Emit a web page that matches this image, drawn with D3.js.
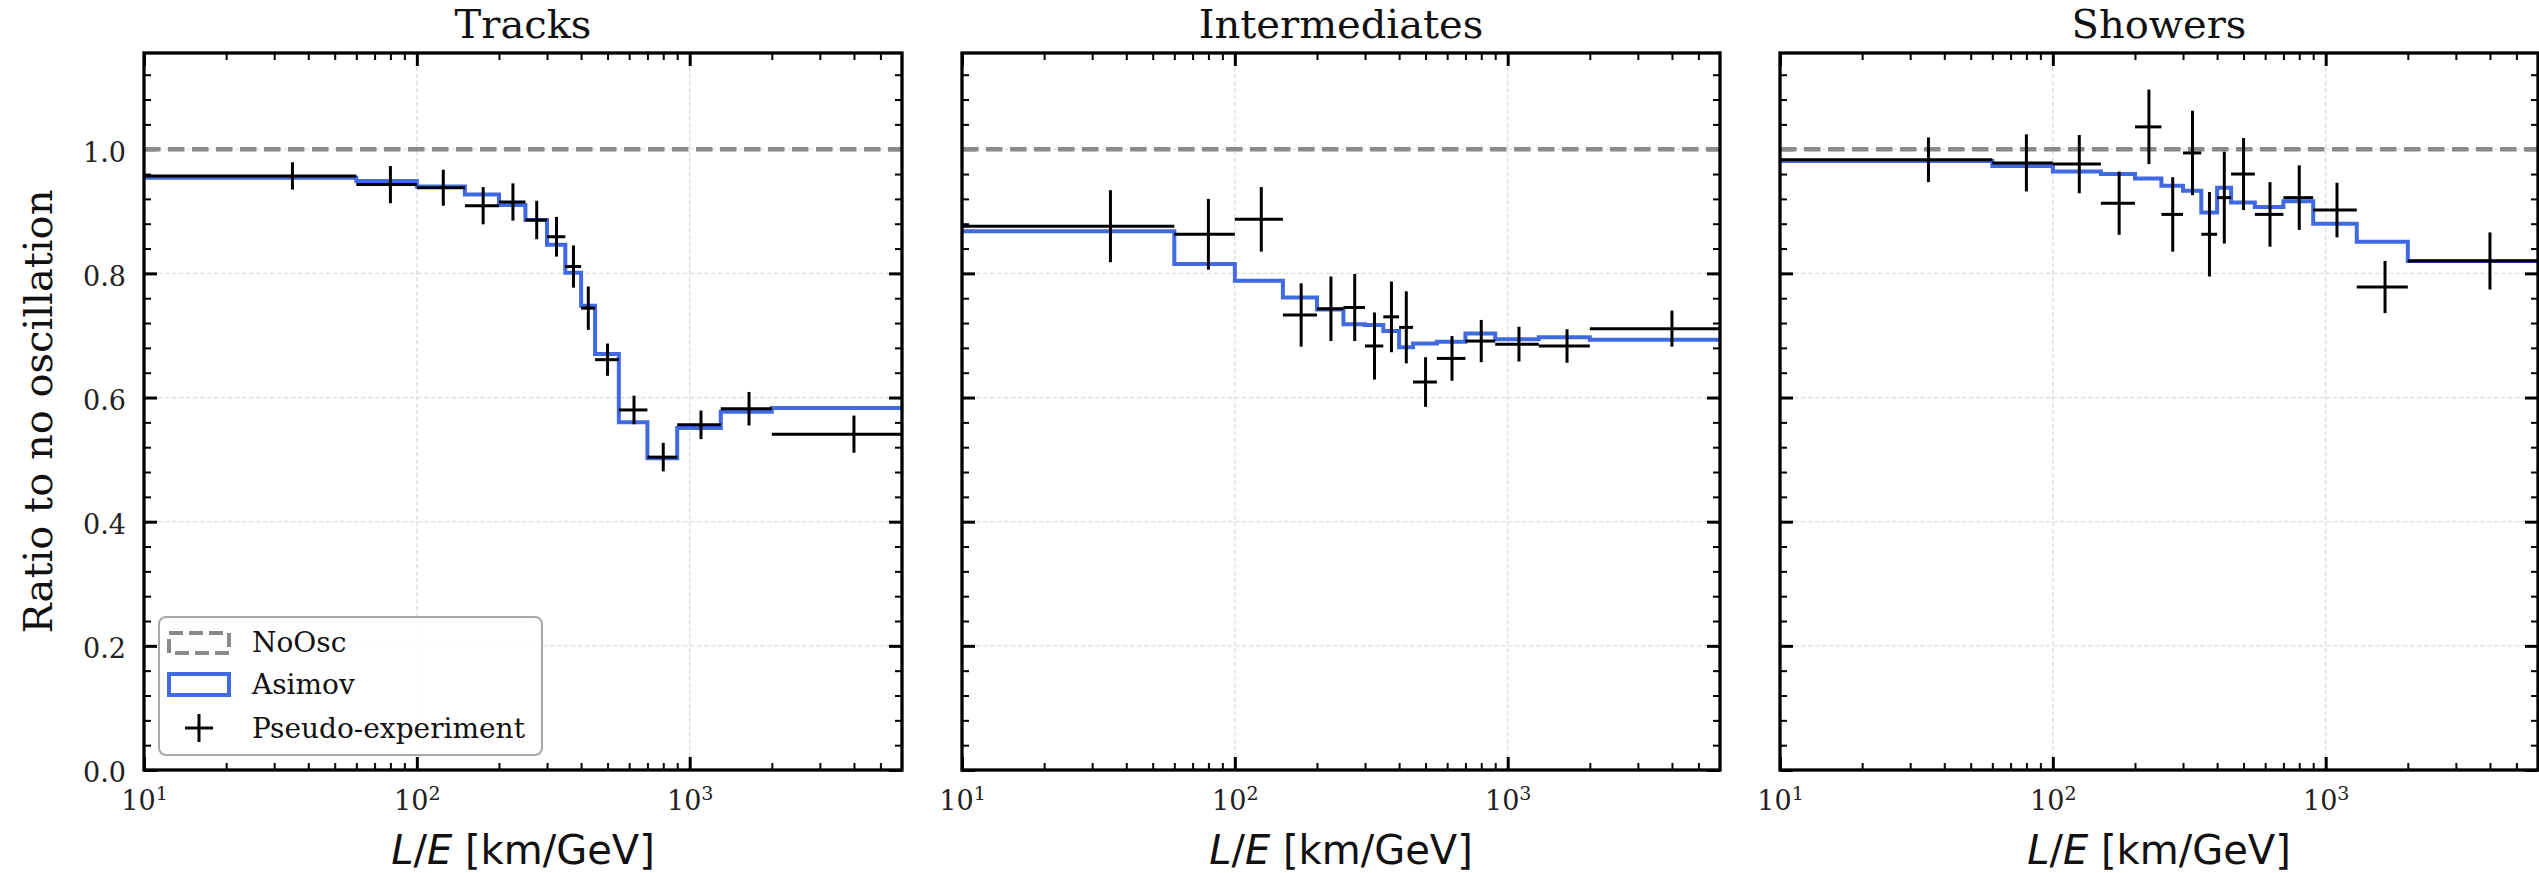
<!DOCTYPE html>
<html><head><meta charset="utf-8">
<script src="https://cdn.jsdelivr.net/npm/d3@7"></script>
<style>
html,body{margin:0;padding:0;background:#fff;}
svg{display:block;}
</style></head>
<body>
<svg id="chart" width="2539" height="873"></svg>
<script>
// ---------------- data ----------------
const binEdges = [10, 60, 100, 150, 200, 250, 300, 350, 400, 450, 550, 700, 900, 1300, 2000, 6000];
const panelTitles = ["Tracks", "Intermediates", "Showers"];

const noOsc = [1, 1, 1, 1, 1, 1, 1, 1, 1, 1, 1, 1, 1, 1, 1];

const tracksAsimov = [0.954, 0.949, 0.940, 0.927, 0.910, 0.886, 0.846, 0.801, 0.748, 0.670, 0.560, 0.502, 0.551, 0.577, 0.583];
const tracksPseudo = [0.957, 0.943, 0.938, 0.909, 0.915, 0.886, 0.859, 0.811, 0.744, 0.661, 0.580, 0.504, 0.556, 0.582, 0.541];
const tracksErr    = [0.022, 0.030, 0.029, 0.030, 0.030, 0.031, 0.032, 0.034, 0.035, 0.026, 0.023, 0.023, 0.023, 0.027, 0.030];

const interAsimov = [0.868, 0.815, 0.788, 0.761, 0.742, 0.718, 0.717, 0.707, 0.681, 0.687, 0.690, 0.703, 0.694, 0.697, 0.693];
const interPseudo = [0.876, 0.863, 0.887, 0.733, 0.743, 0.745, 0.683, 0.730, 0.713, 0.625, 0.663, 0.691, 0.686, 0.683, 0.711];
const interErr    = [0.058, 0.057, 0.052, 0.051, 0.052, 0.054, 0.054, 0.057, 0.058, 0.040, 0.036, 0.034, 0.028, 0.027, 0.029];

const showerAsimov = [0.981, 0.973, 0.964, 0.960, 0.953, 0.941, 0.933, 0.898, 0.938, 0.914, 0.907, 0.916, 0.880, 0.851, 0.820];
const showerPseudo = [0.983, 0.978, 0.976, 0.913, 1.036, 0.895, 0.994, 0.863, 0.922, 0.960, 0.895, 0.922, 0.902, 0.778, 0.820];
const showerErr    = [0.036, 0.046, 0.047, 0.051, 0.060, 0.060, 0.068, 0.068, 0.074, 0.058, 0.052, 0.052, 0.044, 0.042, 0.046];

const xDomain = [10, 6000];
const yDomain = [0, 1.155];
const xMajorTicks = [10, 100, 1000];
const xMajorExponents = ["1", "2", "3"];
const xMinorTicks = [20, 30, 40, 50, 60, 70, 80, 90, 200, 300, 400, 500, 600, 700, 800, 900, 2000, 3000, 4000, 5000];
const yMajorTicks = [0, 0.2, 0.4, 0.6, 0.8, 1.0];
const yMajorLabels = ["0.0", "0.2", "0.4", "0.6", "0.8", "1.0"];
const yMinorTicks = [0.04, 0.08, 0.12, 0.16, 0.24, 0.28, 0.32, 0.36, 0.44, 0.48, 0.52, 0.56, 0.64, 0.68, 0.72, 0.76, 0.84, 0.88, 0.92, 0.96, 1.04, 1.08, 1.12];
const xGridTicks = [100, 1000];
const yGridTicks = [0.2, 0.4, 0.6, 0.8, 1.0];
const legendLabels = ["NoOsc", "Asimov", "Pseudo-experiment"];

const panels = [
  { title: panelTitles[0], asimov: tracksAsimov, pseudo: tracksPseudo, err: tracksErr },
  { title: panelTitles[1], asimov: interAsimov, pseudo: interPseudo, err: interErr },
  { title: panelTitles[2], asimov: showerAsimov, pseudo: showerPseudo, err: showerErr }
];

// ---------------- layout / style ----------------
const serif = "'DejaVu Serif', serif";
const sans = "'DejaVu Sans', sans-serif";
const PANEL_W = 758, TOP = 53, BOTTOM = 770;
const lefts = [144, 962, 1780];
const BLUE = "#4169e1";
const GRAY = "#8a8a8a";

const svg = d3.select("#chart");
const y = d3.scaleLinear().domain(yDomain).range([BOTTOM, TOP]);

function styleAxis(sel, width) {
  sel.select(".domain").remove();
  sel.selectAll(".tick line").attr("stroke", "#000").attr("stroke-width", width);
}

panels.forEach((p, i) => {
  const L = lefts[i];
  const x = d3.scaleLog().domain(xDomain).range([L, L + PANEL_W]);
  const g = svg.append("g");

  const clipId = "clip" + i;
  svg.append("clipPath").attr("id", clipId)
    .append("rect").attr("x", L).attr("y", TOP).attr("width", PANEL_W).attr("height", BOTTOM - TOP);

  // grid
  const grid = g.append("g").attr("stroke", "#dcdcdc").attr("stroke-width", 1.3).attr("stroke-dasharray", "4.5,2.5");
  grid.selectAll(".gx").data(xGridTicks).join("line")
    .attr("x1", d => x(d)).attr("x2", d => x(d)).attr("y1", TOP).attr("y2", BOTTOM);
  grid.selectAll(".gy").data(yGridTicks).join("line")
    .attr("x1", L).attr("x2", L + PANEL_W).attr("y1", d => y(d)).attr("y2", d => y(d));

  // axes ticks (inward, all four sides)
  const axB = g.append("g").attr("transform", `translate(0,${BOTTOM})`)
    .call(d3.axisBottom(x).tickValues(xMajorTicks).tickSize(-13).tickFormat(() => ""));
  styleAxis(axB, 3);
  g.append("g").attr("transform", `translate(0,${BOTTOM})`)
    .call(d3.axisBottom(x).tickValues(xMinorTicks).tickSize(-7).tickFormat(() => ""))
    .call(s => styleAxis(s, 2));
  g.append("g").attr("transform", `translate(0,${TOP})`)
    .call(d3.axisTop(x).tickValues(xMajorTicks).tickSize(-13).tickFormat(() => ""))
    .call(s => styleAxis(s, 3));
  g.append("g").attr("transform", `translate(0,${TOP})`)
    .call(d3.axisTop(x).tickValues(xMinorTicks).tickSize(-7).tickFormat(() => ""))
    .call(s => styleAxis(s, 2));

  const axL = g.append("g").attr("transform", `translate(${L},0)`)
    .call(d3.axisLeft(y).tickValues(yMajorTicks).tickSize(-13).tickPadding(18)
      .tickFormat((d, k) => i === 0 ? yMajorLabels[k] : ""));
  styleAxis(axL, 3);
  axL.selectAll(".tick text").attr("font-family", serif).attr("font-size", 27)
    .attr("fill", "#222").attr("dy", "0.44em");
  g.append("g").attr("transform", `translate(${L},0)`)
    .call(d3.axisLeft(y).tickValues(yMinorTicks).tickSize(-7).tickFormat(() => ""))
    .call(s => styleAxis(s, 2));
  g.append("g").attr("transform", `translate(${L + PANEL_W},0)`)
    .call(d3.axisRight(y).tickValues(yMajorTicks).tickSize(-13).tickFormat(() => ""))
    .call(s => styleAxis(s, 3));
  g.append("g").attr("transform", `translate(${L + PANEL_W},0)`)
    .call(d3.axisRight(y).tickValues(yMinorTicks).tickSize(-7).tickFormat(() => ""))
    .call(s => styleAxis(s, 2));

  // x tick labels 10^n
  axB.selectAll(".tick text").each(function(d, k) {
    const t = d3.select(this);
    t.text(null).attr("y", 40).attr("dy", null).attr("font-family", serif)
      .attr("font-size", 27).attr("fill", "#222").attr("text-anchor", "middle");
    t.append("tspan").text("10");
    t.append("tspan").attr("font-size", 19).attr("dy", -10).text(xMajorExponents[k]);
  });

  const data = g.append("g").attr("clip-path", `url(#${clipId})`);

  // NoOsc dashed step
  const stepLine = d3.line().x(d => x(d[0])).y(d => y(d[1])).curve(d3.curveStepAfter);
  const stepPts = vals => binEdges.map((e, k) => [e, vals[Math.min(k, vals.length - 1)]]);
  data.append("path").attr("d", stepLine(stepPts(noOsc)))
    .attr("fill", "none").attr("stroke", GRAY).attr("stroke-width", 4.5).attr("stroke-dasharray", "16.5,7.5");

  // Asimov step
  data.append("path").attr("d", stepLine(stepPts(p.asimov)))
    .attr("fill", "none").attr("stroke", BLUE).attr("stroke-width", 4).attr("stroke-linejoin", "miter");

  // Pseudo-experiment error bars
  const pts = p.pseudo.map((v, k) => ({
    lo: binEdges[k], hi: binEdges[k + 1], mid: (binEdges[k] + binEdges[k + 1]) / 2, v, e: p.err[k]
  }));
  const eb = data.append("g").attr("stroke", "#000").attr("stroke-width", 3);
  eb.selectAll(".h").data(pts).join("line")
    .attr("x1", d => x(d.lo)).attr("x2", d => x(d.hi)).attr("y1", d => y(d.v)).attr("y2", d => y(d.v));
  eb.selectAll(".v").data(pts).join("line")
    .attr("x1", d => x(d.mid)).attr("x2", d => x(d.mid)).attr("y1", d => y(d.v - d.e)).attr("y2", d => y(d.v + d.e));

  // spines
  g.append("rect").attr("x", L).attr("y", TOP).attr("width", PANEL_W).attr("height", BOTTOM - TOP)
    .attr("fill", "none").attr("stroke", "#000").attr("stroke-width", 3.3);

  // title
  g.append("text").attr("x", L + PANEL_W / 2).attr("y", 38).attr("text-anchor", "middle")
    .attr("font-family", serif).attr("font-size", 40).attr("fill", "#111").text(p.title);

  // x label
  const xl = g.append("text").attr("x", L + PANEL_W / 2).attr("y", 864).attr("text-anchor", "middle")
    .attr("font-family", sans).attr("font-size", 40).attr("fill", "#111");
  xl.append("tspan").attr("font-style", "italic").text("L");
  xl.append("tspan").text("/");
  xl.append("tspan").attr("font-style", "italic").text("E");
  xl.append("tspan").text(" [km/GeV]");

  if (i === 0) {
    // legend
    const lg = g.append("g");
    lg.append("rect").attr("x", 159).attr("y", 617).attr("width", 383).attr("height", 138)
      .attr("rx", 7).attr("fill", "#fff").attr("fill-opacity", 0.9)
      .attr("stroke", "#a8a8a8").attr("stroke-width", 2);
    lg.append("rect").attr("x", 169).attr("y", 633).attr("width", 60).attr("height", 20)
      .attr("fill", "none").attr("stroke", GRAY).attr("stroke-width", 4).attr("stroke-dasharray", "14,6");
    lg.append("rect").attr("x", 169).attr("y", 674).attr("width", 60).attr("height", 21)
      .attr("fill", "none").attr("stroke", BLUE).attr("stroke-width", 4);
    lg.append("line").attr("x1", 185).attr("x2", 213).attr("y1", 728).attr("y2", 728)
      .attr("stroke", "#000").attr("stroke-width", 3);
    lg.append("line").attr("x1", 199).attr("x2", 199).attr("y1", 714).attr("y2", 742)
      .attr("stroke", "#000").attr("stroke-width", 3);
    const baselines = [652, 694, 738];
    lg.selectAll(".lt").data(legendLabels).join("text")
      .attr("x", 252).attr("y", (d, k) => baselines[k])
      .attr("font-family", serif).attr("font-size", 28).attr("fill", "#111").text(d => d);

    // y label
    svg.append("text").attr("transform", `translate(52,${(TOP + BOTTOM) / 2}) rotate(-90)`)
      .attr("text-anchor", "middle").attr("font-family", serif).attr("font-size", 40).attr("fill", "#111")
      .text("Ratio to no oscillation");
  }
});
</script>
</body></html>
